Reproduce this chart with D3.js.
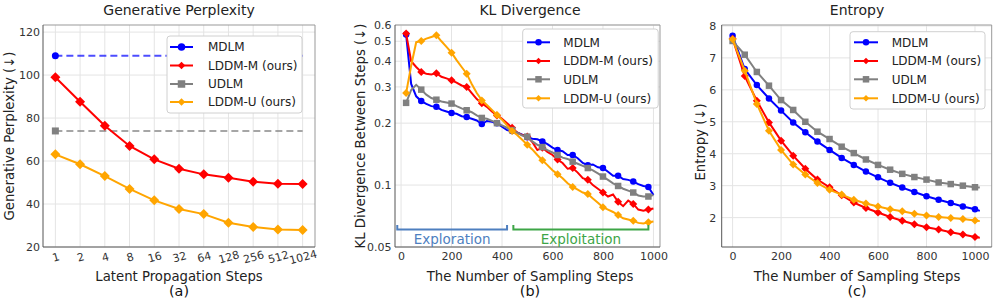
<!DOCTYPE html>
<html>
<head>
<meta charset="utf-8">
<script src="https://cdn.jsdelivr.net/npm/d3@7"></script>
<style>
  body { margin: 0; background: #fff; }
  svg { display: block; font-family: "DejaVu Sans", sans-serif; }
</style>
</head>
<body>
<script>
// (a) generative perplexity vs latent propagation steps
const pplSteps = ["1", "2", "4", "8", "16", "32", "64", "128", "256", "512", "1024"];
const pplMDLM = 109;
const pplUDLM = 74;
const pplLddmM = [99, 87.6, 76.4, 67, 60.8, 56.4, 53.8, 52.2, 50.4, 49.4, 49.3];
const pplLddmU = [63.1, 58.5, 53, 47, 41.7, 37.7, 35.3, 31.3, 29.3, 28.2, 27.9];
const pplTicks = [20, 40, 60, 80, 100, 120];

// (b) KL divergence between steps
const klSteps = [20, 40, 60, 80, 100, 120, 140, 160, 180, 200, 220, 240, 260, 280, 300, 320, 340, 360, 380, 400,
                 420, 440, 460, 480, 500, 520, 540, 560, 580, 600, 620, 640, 660, 680, 700, 720, 740, 760, 780, 800,
                 820, 840, 860, 880, 900, 920, 940, 960, 980, 1000];
const klMDLM = [0.54, 0.31, 0.27, 0.256, 0.248, 0.242, 0.24, 0.232, 0.228, 0.224, 0.222, 0.216, 0.214, 0.21, 0.206, 0.198, 0.205, 0.203, 0.2, 0.192,
                0.185, 0.183, 0.18, 0.176, 0.171, 0.168, 0.167, 0.163, 0.158, 0.152, 0.148, 0.146, 0.14, 0.14, 0.135, 0.128, 0.125, 0.126, 0.122, 0.121,
                0.116, 0.111, 0.111, 0.107, 0.106, 0.104, 0.101, 0.099, 0.098, 0.0895];
const klLddmM = [0.545, 0.40, 0.375, 0.355, 0.348, 0.345, 0.35, 0.336, 0.33, 0.323, 0.315, 0.305, 0.30, 0.28, 0.262, 0.25, 0.24, 0.228, 0.218, 0.21,
                 0.2, 0.19, 0.18, 0.175, 0.172, 0.162, 0.148, 0.152, 0.145, 0.14, 0.133, 0.128, 0.12, 0.121, 0.115, 0.108, 0.106, 0.1, 0.096, 0.092,
                 0.088, 0.09, 0.083, 0.079, 0.084, 0.081, 0.076, 0.075, 0.076, 0.077];
const klUDLM = [0.251, 0.29, 0.307, 0.291, 0.275, 0.265, 0.26, 0.255, 0.252, 0.249, 0.242, 0.236, 0.231, 0.226, 0.218, 0.212, 0.21, 0.205, 0.2, 0.195,
                0.19, 0.185, 0.18, 0.174, 0.172, 0.163, 0.157, 0.153, 0.148, 0.144, 0.14, 0.136, 0.134, 0.13, 0.127, 0.124, 0.121, 0.118, 0.114, 0.11,
                0.106, 0.102, 0.099, 0.096, 0.094, 0.092, 0.089, 0.088, 0.088, 0.0895];
const klLddmU = [0.28, 0.38, 0.495, 0.502, 0.515, 0.525, 0.535, 0.5, 0.47, 0.44, 0.405, 0.375, 0.348, 0.31, 0.28, 0.258, 0.245, 0.232, 0.219, 0.208,
                 0.195, 0.183, 0.175, 0.166, 0.157, 0.149, 0.14, 0.132, 0.125, 0.118, 0.113, 0.108, 0.102, 0.098, 0.095, 0.092, 0.0905, 0.086, 0.082, 0.078,
                 0.076, 0.074, 0.0715, 0.069, 0.068, 0.067, 0.0655, 0.065, 0.066, 0.0665];
const klTicks = [0.05, 0.1, 0.2, 0.3, 0.4, 0.5, 0.6];
const stepTicks = [0, 200, 400, 600, 800, 1000];

// (c) entropy
const entSteps = [0, 50, 100, 150, 200, 250, 300, 350, 400, 450, 500, 550, 600, 650, 700, 750, 800, 850, 900, 950, 1000, 1020];
const entMDLM = [7.69, 6.65, 6.15, 5.73, 5.35, 4.98, 4.67, 4.38, 4.12, 3.87, 3.65, 3.44, 3.26, 3.09, 2.94, 2.80, 2.67, 2.56, 2.46, 2.35, 2.26, 2.21];
const entLddmM = [7.6, 6.43, 5.66, 4.98, 4.41, 3.94, 3.53, 3.19, 2.95, 2.70, 2.47, 2.30, 2.16, 2.02, 1.90, 1.79, 1.70, 1.63, 1.54, 1.47, 1.39, 1.37];
const entUDLM = [7.53, 7.1, 6.56, 6.13, 5.68, 5.37, 5.0, 4.69, 4.46, 4.22, 4.02, 3.82, 3.65, 3.5, 3.37, 3.27, 3.19, 3.10, 3.05, 3.0, 2.95, 2.94];
const entLddmU = [7.58, 6.6, 5.56, 4.72, 4.12, 3.66, 3.35, 3.08, 2.87, 2.72, 2.56, 2.44, 2.35, 2.26, 2.2, 2.12, 2.07, 2.02, 1.99, 1.96, 1.91, 1.89];
const entTicks = [2, 3, 4, 5, 6, 7, 8];

const seriesNames = ["MDLM", "LDDM-M (ours)", "UDLM", "LDDM-U (ours)"];
const seriesColors = ["#0000ff", "#ff0000", "#808080", "#ffa500"];
const seriesShapes = ["circle", "diamond", "square", "diamond"];

const svg = d3.select("body").append("svg")
    .attr("width", 996)
    .attr("height", 302);

const shapePath = (shape, s) => {
    if (shape === "circle") return d3.symbol(d3.symbolCircle, Math.PI * (s / 2) ** 2)();
    if (shape === "diamond") return d3.symbol(d3.symbolSquare, s * s / 2)();
    return d3.symbol(d3.symbolSquare, s * s)();
};

const drawMarkers = (g, pts, shape, color, s) => {
    g.append("g").selectAll("path")
        .data(pts)
        .join("path")
        .attr("d", shapePath(shape, s))
        .attr("transform", d => `translate(${d[0]},${d[1]})${shape === "diamond" ? " rotate(45)" : ""}`)
        .attr("fill", color);
};

const drawFrame = (g, x, y, xTicks, yTicks) => {
    const [x0, x1] = x.range();
    const [y0, y1] = y.range();
    g.append("g").selectAll("line")
        .data(xTicks)
        .join("line")
        .attr("x1", d => x(d)).attr("x2", d => x(d))
        .attr("y1", y0).attr("y2", y1)
        .attr("stroke", "#e4e4e4");
    g.append("g").selectAll("line")
        .data(yTicks)
        .join("line")
        .attr("x1", x0).attr("x2", x1)
        .attr("y1", d => y(d)).attr("y2", d => y(d))
        .attr("stroke", "#e4e4e4");
    g.append("path")
        .attr("d", `M${x0},${y1}H${x1}V${y0}`)
        .attr("fill", "none").attr("stroke", "#999");
    g.append("path")
        .attr("d", `M${x0},${y1}V${y0}H${x1}`)
        .attr("fill", "none").attr("stroke", "#555");
};

const drawYAxis = (g, x, y, ticks, fmt, pad) => {
    const ax = g.append("g")
        .attr("transform", `translate(${x.range()[0]},0)`)
        .call(d3.axisLeft(y).tickValues(ticks).tickFormat(fmt).tickSize(0).tickPadding(pad));
    ax.select(".domain").remove();
    ax.selectAll("text").attr("font-size", 11).attr("fill", "#333").attr("font-family", "DejaVu Sans");
};

const drawXAxis = (g, x, y, ticks, fmt) => {
    const ax = g.append("g")
        .attr("transform", `translate(0,${y.range()[0]})`)
        .call(d3.axisBottom(x).tickValues(ticks).tickFormat(fmt).tickSize(0).tickPadding(5));
    ax.select(".domain").remove();
    ax.selectAll("text").attr("font-size", 11).attr("fill", "#333").attr("font-family", "DejaVu Sans");
    return ax;
};

const drawLabels = (g, cx, title, xlab, ylabX, ylabY, ylab, letter) => {
    g.append("text").attr("x", cx).attr("y", 15).attr("text-anchor", "middle")
        .attr("font-size", 14).attr("fill", "#222").text(title);
    g.append("text").attr("x", cx).attr("y", 281).attr("text-anchor", "middle")
        .attr("font-size", 13.25).attr("fill", "#222").text(xlab);
    g.append("text").attr("x", cx).attr("y", 296).attr("text-anchor", "middle")
        .attr("font-size", 14.4).attr("fill", "#111").text(letter);
    g.append("text").attr("transform", `translate(${ylabX},${ylabY}) rotate(-90)`)
        .attr("text-anchor", "middle")
        .attr("font-size", 13.25).attr("fill", "#222").text(ylab);
};

const drawLegend = (g, bx, by, bw, bh, rowY, lx1, lx2, tx, s) => {
    g.append("rect")
        .attr("x", bx).attr("y", by).attr("width", bw).attr("height", bh)
        .attr("rx", 3).attr("fill", "#fff")
        .attr("stroke", "#d0d0d0");
    seriesNames.forEach((name, i) => {
        const yy = by + rowY[i];
        g.append("line")
            .attr("x1", lx1).attr("x2", lx2).attr("y1", yy).attr("y2", yy)
            .attr("stroke", seriesColors[i]).attr("stroke-width", 2);
        drawMarkers(g, [[(lx1 + lx2) / 2, yy]], seriesShapes[i], seriesColors[i], s);
        g.append("text")
            .attr("x", tx).attr("y", yy).attr("dy", "0.36em")
            .attr("font-size", 12).attr("fill", "#222").text(name);
    });
};

// ---------- (a) ----------
const ga = svg.append("g");
const xa = d3.scaleLinear().domain([-0.5, 10.5]).range([43, 315]);
const ya = d3.scaleLinear().domain([20, 123.3]).range([247, 25]);
const idx = pplSteps.map((_, i) => i);

drawFrame(ga, xa, ya, idx, pplTicks);
drawYAxis(ga, xa, ya, pplTicks, d => d, 3);
const axa = drawXAxis(ga, xa, ya, idx, i => pplSteps[i]);
axa.selectAll("text")
    .attr("y", 0).attr("dy", "0.35em")
    .attr("transform", "translate(0,10) rotate(-15)");

const lineA = d3.line().x(d => xa(d[0])).y(d => ya(d[1]));
[[pplMDLM, 0], [pplUDLM, 2]].forEach(([v, k]) => {
    ga.append("path")
        .attr("d", lineA([[0, v], [10, v]]))
        .attr("fill", "none").attr("stroke", seriesColors[k])
        .attr("stroke-width", 2).attr("stroke-dasharray", "7,4").attr("opacity", 0.7);
    drawMarkers(ga, [[xa(0), ya(v)]], seriesShapes[k], seriesColors[k], 7);
});
[[pplLddmM, 1], [pplLddmU, 3]].forEach(([vals, k]) => {
    const pts = vals.map((v, i) => [i, v]);
    ga.append("path")
        .attr("d", lineA(pts))
        .attr("fill", "none").attr("stroke", seriesColors[k]).attr("stroke-width", 2);
    drawMarkers(ga, pts.map(d => [xa(d[0]), ya(d[1])]), seriesShapes[k], seriesColors[k], 10);
});
drawLegend(ga, 167, 36, 135, 77, [11, 29.5, 48, 66], 170, 193, 208, 7.5);
drawLabels(ga, 179, "Generative Perplexity", "Latent Propagation Steps", 14, 136, "Generative Perplexity (↓)", "(a)");

// ---------- (b) ----------
const gb = svg.append("g");
const xb = d3.scaleLinear().domain([-24, 1026]).range([395, 660]);
const yb = d3.scaleLog().domain([0.05, 0.6]).range([247, 25]);

drawFrame(gb, xb, yb, stepTicks, klTicks);
drawYAxis(gb, xb, yb, klTicks, d => String(d), 3.5);
drawXAxis(gb, xb, yb, stepTicks, d => d);

const lineB = d3.line().x(d => xb(d[0])).y(d => yb(d[1]));
[klMDLM, klLddmM, klUDLM, klLddmU].forEach((vals, k) => {
    const pts = vals.map((v, i) => [klSteps[i], v]);
    gb.append("path")
        .attr("d", lineB(pts))
        .attr("fill", "none").attr("stroke", seriesColors[k]).attr("stroke-width", 2);
    drawMarkers(gb, pts.filter((_, i) => i % 3 === 0).map(d => [xb(d[0]), yb(d[1])]),
        seriesShapes[k], seriesColors[k], k % 2 ? 8 : 6.5);
});

// exploration / exploitation brackets
const phases = [
    {name: "Exploration", from: -15, to: 420, color: "#4e7fbf"},
    {name: "Exploitation", from: 445, to: 980, color: "#3da547"}
];
phases.forEach(p => {
    gb.append("path")
        .attr("d", `M${xb(p.from)},${yb(0.064)}V${yb(0.0609)}H${xb(p.to)}V${yb(0.064)}`)
        .attr("fill", "none").attr("stroke", p.color).attr("stroke-width", 2);
    gb.append("text")
        .attr("x", xb((p.from + p.to) / 2)).attr("y", 244)
        .attr("text-anchor", "middle").attr("font-size", 13.5)
        .attr("fill", p.color).text(p.name);
});
drawLegend(gb, 522.7, 29, 135.5, 79, [13.3, 32, 50.3, 69.3], 527, 550, 563.3, 6.5);
drawLabels(gb, 530, "KL Divergence", "The Number of Sampling Steps", 365, 136, "KL Divergence Between Steps (↓)", "(b)");

// ---------- (c) ----------
const gc = svg.append("g");
const xc = d3.scaleLinear().domain([-45, 1069]).range([721.7, 991.7]);
const yc = d3.scaleLinear().domain([1.08, 8.03]).range([247, 25]);

drawFrame(gc, xc, yc, stepTicks, entTicks);
drawYAxis(gc, xc, yc, entTicks, d => d, 5.5);
drawXAxis(gc, xc, yc, stepTicks, d => d);

const lineC = d3.line().x(d => xc(d[0])).y(d => yc(d[1]));
[entMDLM, entLddmM, entUDLM, entLddmU].forEach((vals, k) => {
    const pts = vals.map((v, i) => [entSteps[i], v]);
    gc.append("path")
        .attr("d", lineC(pts))
        .attr("fill", "none").attr("stroke", seriesColors[k]).attr("stroke-width", 2);
    drawMarkers(gc, pts.filter(d => d[0] <= 1000).map(d => [xc(d[0]), yc(d[1])]),
        seriesShapes[k], seriesColors[k], k % 2 ? 8 : 6.5);
});
drawLegend(gc, 850, 31.7, 135, 77.3, [10.6, 29.3, 47.6, 66.6], 854, 878, 891.7, 6.5);
drawLabels(gc, 857, "Entropy", "The Number of Sampling Steps", 705, 142, "Entropy (↓)", "(c)");
</script>
</body>
</html>
